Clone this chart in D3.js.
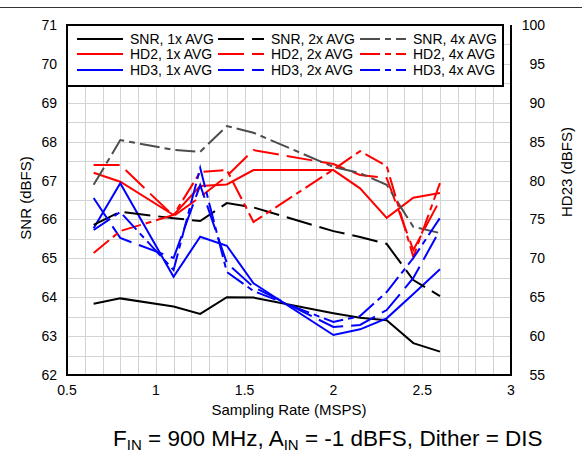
<!DOCTYPE html>
<html>
<head>
<meta charset="utf-8">
<script src="https://cdn.jsdelivr.net/npm/d3@7"></script>
<style>
  body { margin: 0; background: #fff; }
  svg { font-family: "Liberation Sans", Arial, sans-serif; }
</style>
</head>
<body>
<svg id="chart" width="582" height="456"></svg>
<script>
// sampling rates (MSPS)
const rates = [0.65, 0.8, 1.1, 1.25, 1.4, 1.55, 2.0, 2.15, 2.3, 2.45, 2.6];

// SNR (dBFS), left axis
const snr1x = [63.83, 63.97, 63.76, 63.57, 64.0, 63.99, 63.59, 63.47, 63.41, 62.82, 62.6];
const snr2x = [65.86, 66.2, 66.03, 65.96, 66.42, 66.31, 65.7, 65.55, 65.37, 64.44, 64.03];
const snr4x = [66.89, 68.04, 67.79, 67.74, 68.4, 68.23, 67.35, 67.19, 66.89, 65.81, 65.65];

// HD2 / HD3 (dBFS), right axis
const hd2_1x = [81.0, 79.85, 75.57, 79.3, 79.5, 81.35, 81.35, 79.0, 75.2, 77.8, 78.4];
const hd2_2x = [82.0, 82.0, 75.44, 77.88, 80.58, 83.92, 82.12, 80.71, 80.32, 71.07, 77.49];
const hd2_4x = [70.68, 73.51, 75.57, 81.09, 81.35, 74.67, 81.41, 83.79, 81.86, 70.17, 79.68];
const hd3_1x = [73.86, 79.64, 67.63, 72.78, 71.62, 66.79, 60.14, 60.87, 62.29, 65.41, 68.59];
const hd3_2x = [77.75, 72.61, 70.04, 79.42, 69.4, 66.31, 61.17, 61.43, 63.35, 67.47, 73.64];
const hd3_4x = [73.64, 75.95, 68.5, 81.61, 68.24, 65.8, 61.81, 62.58, 65.67, 70.04, 75.18];

const xTicks = [0.5, 1, 1.5, 2, 2.5, 3];
const snrTicks = d3.range(62, 72);
const hdTicks = d3.range(55, 101, 5);

const dashes = {"1x": null, "2x": "26,8", "4x": "20,5,6,5"};

const series = [
  {label: "SNR, 1x AVG", values: snr1x, axis: "snr", color: "#000000", avg: "1x"},
  {label: "HD2, 1x AVG", values: hd2_1x, axis: "hd", color: "#ff0000", avg: "1x"},
  {label: "HD3, 1x AVG", values: hd3_1x, axis: "hd", color: "#0000ff", avg: "1x"},
  {label: "SNR, 2x AVG", values: snr2x, axis: "snr", color: "#000000", avg: "2x"},
  {label: "HD2, 2x AVG", values: hd2_2x, axis: "hd", color: "#ff0000", avg: "2x"},
  {label: "HD3, 2x AVG", values: hd3_2x, axis: "hd", color: "#0000ff", avg: "2x"},
  {label: "SNR, 4x AVG", values: snr4x, axis: "snr", color: "#4d4d4d", avg: "4x"},
  {label: "HD2, 4x AVG", values: hd2_4x, axis: "hd", color: "#ff0000", avg: "4x"},
  {label: "HD3, 4x AVG", values: hd3_4x, axis: "hd", color: "#0000ff", avg: "4x"}
];

const svg = d3.select("#chart");
const plotLeft = 67, plotRight = 511, plotTop = 25, plotBottom = 375;

const x = d3.scaleLinear().domain([0.5, 3]).range([plotLeft, plotRight]);
const ySnr = d3.scaleLinear().domain([62, 71]).range([plotBottom, plotTop]);
const yHd = d3.scaleLinear().domain([55, 100]).range([plotBottom, plotTop]);

// thin rule at the very top
svg.append("line")
  .attr("x1", 0).attr("x2", 582).attr("y1", 7.5).attr("y2", 7.5)
  .attr("stroke", "#333").attr("stroke-width", 1);

// grid
const grid = svg.append("g").attr("stroke", "#d3d3d3").attr("stroke-width", 1);
grid.selectAll(".gx").data(d3.range(6, 30).map(d => d / 10)).enter()
  .append("line")
  .attr("x1", d => Math.round(x(d)) + 0.5).attr("x2", d => Math.round(x(d)) + 0.5)
  .attr("y1", plotTop).attr("y2", plotBottom);
grid.selectAll(".gy").data(d3.range(125, 142).map(d => d / 2)).enter()
  .append("line")
  .attr("y1", d => Math.round(ySnr(d)) + 0.5).attr("y2", d => Math.round(ySnr(d)) + 0.5)
  .attr("x1", plotLeft).attr("x2", plotRight);

// data lines
series.forEach(s => {
  let yScale = s.axis == "snr" ? ySnr : yHd;
  let line = d3.line().x((d, i) => x(rates[i])).y(d => yScale(d));
  svg.append("path")
    .datum(s.values)
    .attr("d", line)
    .attr("fill", "none")
    .attr("stroke", s.color)
    .attr("stroke-width", 2)
    .attr("stroke-dasharray", dashes[s.avg]);
});

// frame
svg.append("path")
  .attr("d", `M${plotLeft},${plotTop}V${plotBottom}H${plotRight}V${plotTop}`)
  .attr("fill", "none").attr("stroke", "#000").attr("stroke-width", 2);

// legend
const legend = svg.append("g");
legend.append("rect")
  .attr("x", plotLeft).attr("y", plotTop).attr("width", 436).attr("height", 61)
  .attr("fill", "#fff").attr("stroke", "#000").attr("stroke-width", 2);
const colX = [77, 218, 360];
const rowY = [39, 54, 70];
series.forEach((s, i) => {
  let cx = colX[Math.floor(i / 3)], cy = rowY[i % 3];
  legend.append("line")
    .attr("x1", cx).attr("x2", cx + 46).attr("y1", cy).attr("y2", cy)
    .attr("stroke", s.color).attr("stroke-width", 2)
    .attr("stroke-dasharray", dashes[s.avg]);
  legend.append("text")
    .attr("x", cx + 53).attr("y", cy + 5)
    .attr("font-size", 14)
    .text(s.label);
});

// tick labels
svg.selectAll(".ly").data(snrTicks).enter().append("text")
  .attr("x", 57).attr("y", d => ySnr(d)).attr("dy", "0.36em")
  .attr("text-anchor", "end").attr("font-size", 14)
  .text(d => d);
svg.selectAll(".ry").data(hdTicks).enter().append("text")
  .attr("x", 545).attr("y", d => yHd(d)).attr("dy", "0.36em")
  .attr("text-anchor", "end").attr("font-size", 14)
  .text(d => d);
svg.selectAll(".tx").data(xTicks).enter().append("text")
  .attr("x", d => x(d)).attr("y", 395)
  .attr("text-anchor", "middle").attr("font-size", 14)
  .text(d => d);

// axis titles
svg.append("text")
  .attr("x", 289).attr("y", 415)
  .attr("text-anchor", "middle").attr("font-size", 15)
  .text("Sampling Rate (MSPS)");
svg.append("text")
  .attr("transform", "translate(31,198) rotate(-90)")
  .attr("text-anchor", "middle").attr("font-size", 15)
  .text("SNR (dBFS)");
svg.append("text")
  .attr("transform", "translate(572,172) rotate(-90)")
  .attr("text-anchor", "middle").attr("font-size", 15)
  .text("HD23 (dBFS)");

// caption
const cap = svg.append("text").attr("x", 113).attr("y", 446).attr("font-size", 22.5);
const parts = [["F", false], ["IN", true], [" = 900 MHz, A", false], ["IN", true], [" = -1 dBFS, Dither = DIS", false]];
parts.forEach(p => {
  cap.append("tspan")
    .attr("font-size", p[1] ? 15 : 22.5)
    .attr("baseline-shift", p[1] ? "-25%" : null)
    .text(p[0]);
});
</script>
</body>
</html>
